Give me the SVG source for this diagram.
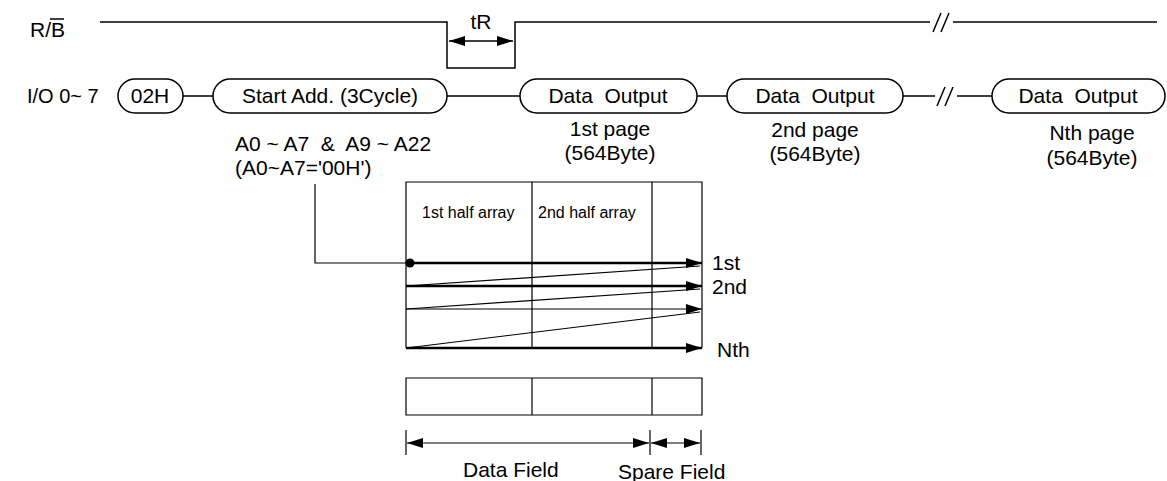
<svg xmlns="http://www.w3.org/2000/svg" width="1167" height="481" viewBox="0 0 1167 481">
<style>
text{font-family:"Liberation Sans",Arial,sans-serif;fill:#000;font-size:21px;white-space:pre}
.s{font-size:16px}
.m{text-anchor:middle}
.ln{stroke:#000;stroke-width:1.5;fill:none}
.thin{stroke:#000;stroke-width:1.2;fill:none}
.thick{stroke:#000;stroke-width:2.4;fill:none}
.pill{fill:#fff;stroke:#000;stroke-width:1.5}
</style>
<defs>
<marker id="ah" viewBox="0 0 16 10" refX="16" refY="5" markerWidth="16" markerHeight="10" markerUnits="userSpaceOnUse" orient="auto-start-reverse"><path d="M0,0 L16,5 L0,10 Z" fill="#000"/></marker>
</defs>
<g id="rb-signal">
<text x="30" y="37">R/B</text>
<line class="ln" x1="50" y1="19" x2="64" y2="19"/>
<path class="ln" d="M100,22 H447 V68 H515 V22 H930"/>
<path class="ln" d="M933,32 L941,13 M941,32 L949,13"/>
<path class="ln" d="M953,22 H1157"/>
<line class="ln" x1="449" y1="41" x2="513" y2="41" marker-start="url(#ah)" marker-end="url(#ah)"/>
<text class="m" x="481" y="29">tR</text>
</g>
<text x="27" y="103" style="font-size:20px">I/O 0~ 7</text>
<g id="connectors">
<path class="ln" d="M183,96 H213 M447,96 H520 M697,96 H727 M903,96 H935 M957,96 H992"/>
<path class="ln" d="M937,106 L945,87 M945,106 L953,87"/>
</g>
<g id="n02h"><rect class="pill" x="118" y="79" width="65" height="34" rx="17"/><text class="m" x="150" y="103">02H</text></g>
<g id="nstart"><rect class="pill" x="213" y="79" width="234" height="34" rx="17"/><text class="m" x="330" y="103">Start Add. (3Cycle)</text></g>
<g id="ndo1"><rect class="pill" x="520" y="79" width="177" height="34" rx="17"/><text class="m" x="608" y="103">Data  Output</text></g>
<g id="ndo2"><rect class="pill" x="727" y="79" width="176" height="34" rx="17"/><text class="m" x="815" y="103">Data  Output</text></g>
<g id="ndo3"><rect class="pill" x="992" y="79" width="173" height="34" rx="17"/><text class="m" x="1078" y="103">Data  Output</text></g>
<g id="labels">
<text x="235" y="151">A0 ~ A7  &amp;  A9 ~ A22</text>
<text x="235" y="175">(A0~A7='00H')</text>
<text class="m" x="610" y="136">1st page</text>
<text class="m" x="610" y="160">(564Byte)</text>
<text class="m" x="815" y="137">2nd page</text>
<text class="m" x="815" y="161">(564Byte)</text>
<text class="m" x="1092" y="140">Nth page</text>
<text class="m" x="1092" y="165">(564Byte)</text>
</g>
<g id="array">
<path class="thin" d="M406,348 V182 H702 V348 M532,182 V348 M652,182 V348"/>
<text class="s" x="422" y="218">1st half array</text>
<text class="s" x="538" y="218">2nd half array</text>
<path class="thin" d="M315,184 V263 H410"/>
<circle cx="410" cy="263" r="4.5" fill="#000"/>
<line class="thick" x1="410" y1="263" x2="702" y2="263" marker-end="url(#ah)"/>
<line class="thin" x1="406" y1="286" x2="700" y2="266"/>
<line class="thick" x1="406" y1="286" x2="702" y2="286" marker-end="url(#ah)"/>
<line class="thin" x1="406" y1="309" x2="700" y2="289"/>
<line class="thin" x1="406" y1="309" x2="702" y2="309" marker-end="url(#ah)"/>
<line class="thin" x1="406" y1="348" x2="700" y2="312"/>
<line class="thick" x1="406" y1="348" x2="702" y2="348" marker-end="url(#ah)"/>
<text x="712" y="270">1st</text>
<text x="712" y="294">2nd</text>
<text x="717" y="357">Nth</text>
</g>
<g id="fields">
<path class="thin" d="M406,378 H702 V415 H406 Z M532,378 V415 M652,378 V415"/>
<path class="thin" d="M406,430 V455 M650,430 V455 M701,430 V455"/>
<line class="thin" x1="407" y1="443" x2="649" y2="443" marker-start="url(#ah)" marker-end="url(#ah)"/>
<line class="thin" x1="651" y1="443" x2="700" y2="443" marker-start="url(#ah)" marker-end="url(#ah)"/>
<text x="463" y="477">Data Field</text>
<text x="618" y="479">Spare Field</text>
</g>
</svg>
